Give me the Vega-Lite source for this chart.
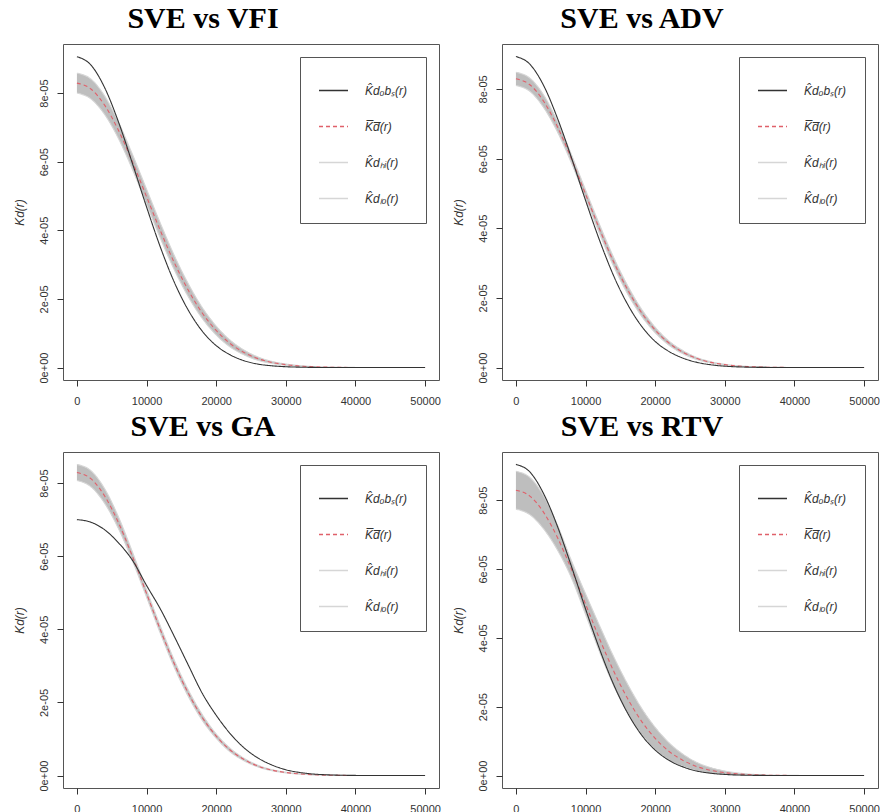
{
  "$schema": "https://vega.github.io/schema/vega-lite/v6.json",
  "padding": {"left": 12, "top": 3, "right": 0, "bottom": 0},
  "background": "white",
  "columns": 2,
  "spacing": {"row": 4, "column": 10},
  "resolve": {"scale": {"color": "independent", "strokeDash": "independent", "x": "independent", "y": "independent"}, "legend": {"color": "independent", "strokeDash": "independent"}},
  "data": {"values": [
    {"p":"VFI","r":0,"obs":9.06e-5,"mean":8.29e-5,"lo":8.00e-5,"hi":8.58e-5},
    {"p":"VFI","r":2000,"obs":8.82e-5,"mean":8.12e-5,"lo":7.83e-5,"hi":8.41e-5},
    {"p":"VFI","r":4000,"obs":8.15e-5,"mean":7.64e-5,"lo":7.37e-5,"hi":7.91e-5},
    {"p":"VFI","r":6000,"obs":7.14e-5,"mean":6.90e-5,"lo":6.66e-5,"hi":7.14e-5},
    {"p":"VFI","r":8000,"obs":5.93e-5,"mean":5.98e-5,"lo":5.76e-5,"hi":6.20e-5},
    {"p":"VFI","r":10000,"obs":4.68e-5,"mean":4.98e-5,"lo":4.76e-5,"hi":5.20e-5},
    {"p":"VFI","r":12000,"obs":3.50e-5,"mean":3.98e-5,"lo":3.76e-5,"hi":4.20e-5},
    {"p":"VFI","r":14000,"obs":2.48e-5,"mean":3.05e-5,"lo":2.84e-5,"hi":3.26e-5},
    {"p":"VFI","r":16000,"obs":1.67e-5,"mean":2.25e-5,"lo":2.06e-5,"hi":2.44e-5},
    {"p":"VFI","r":18000,"obs":1.06e-5,"mean":1.59e-5,"lo":1.43e-5,"hi":1.75e-5},
    {"p":"VFI","r":20000,"obs":0.64e-5,"mean":1.08e-5,"lo":0.95e-5,"hi":1.21e-5},
    {"p":"VFI","r":22000,"obs":0.37e-5,"mean":0.70e-5,"lo":0.60e-5,"hi":0.80e-5},
    {"p":"VFI","r":24000,"obs":0.20e-5,"mean":0.44e-5,"lo":0.37e-5,"hi":0.51e-5},
    {"p":"VFI","r":26000,"obs":0.10e-5,"mean":0.26e-5,"lo":0.21e-5,"hi":0.31e-5},
    {"p":"VFI","r":28000,"obs":0.051e-5,"mean":0.15e-5,"lo":0.12e-5,"hi":0.18e-5},
    {"p":"VFI","r":30000,"obs":0.024e-5,"mean":0.084e-5,"lo":0.064e-5,"hi":0.104e-5},
    {"p":"VFI","r":33000,"obs":0.007e-5,"mean":0.032e-5,"lo":0.022e-5,"hi":0.042e-5},
    {"p":"VFI","r":36000,"obs":0.0016e-5,"mean":0.011e-5,"lo":0.007e-5,"hi":0.015e-5},
    {"p":"VFI","r":40000,"obs":0.0002e-5,"mean":0.0024e-5,"lo":0.0014e-5,"hi":0.0034e-5},
    {"p":"VFI","r":45000,"obs":0,"mean":0.0002e-5,"lo":0.0002e-5,"hi":0.0002e-5},
    {"p":"VFI","r":50000,"obs":0,"mean":0,"lo":0,"hi":0},

    {"p":"ADV","r":0,"obs":8.93e-5,"mean":8.29e-5,"lo":8.10e-5,"hi":8.48e-5},
    {"p":"ADV","r":2000,"obs":8.71e-5,"mean":8.12e-5,"lo":7.93e-5,"hi":8.31e-5},
    {"p":"ADV","r":4000,"obs":8.09e-5,"mean":7.64e-5,"lo":7.46e-5,"hi":7.82e-5},
    {"p":"ADV","r":6000,"obs":7.14e-5,"mean":6.90e-5,"lo":6.75e-5,"hi":7.05e-5},
    {"p":"ADV","r":8000,"obs":6.01e-5,"mean":5.98e-5,"lo":5.86e-5,"hi":6.10e-5},
    {"p":"ADV","r":10000,"obs":4.80e-5,"mean":4.98e-5,"lo":4.86e-5,"hi":5.10e-5},
    {"p":"ADV","r":12000,"obs":3.66e-5,"mean":3.98e-5,"lo":3.85e-5,"hi":4.11e-5},
    {"p":"ADV","r":14000,"obs":2.65e-5,"mean":3.05e-5,"lo":2.92e-5,"hi":3.18e-5},
    {"p":"ADV","r":16000,"obs":1.83e-5,"mean":2.25e-5,"lo":2.13e-5,"hi":2.37e-5},
    {"p":"ADV","r":18000,"obs":1.20e-5,"mean":1.59e-5,"lo":1.49e-5,"hi":1.69e-5},
    {"p":"ADV","r":20000,"obs":0.75e-5,"mean":1.08e-5,"lo":1.00e-5,"hi":1.16e-5},
    {"p":"ADV","r":22000,"obs":0.46e-5,"mean":0.70e-5,"lo":0.64e-5,"hi":0.76e-5},
    {"p":"ADV","r":24000,"obs":0.27e-5,"mean":0.44e-5,"lo":0.395e-5,"hi":0.485e-5},
    {"p":"ADV","r":26000,"obs":0.15e-5,"mean":0.26e-5,"lo":0.23e-5,"hi":0.29e-5},
    {"p":"ADV","r":28000,"obs":0.08e-5,"mean":0.15e-5,"lo":0.13e-5,"hi":0.17e-5},
    {"p":"ADV","r":30000,"obs":0.04e-5,"mean":0.084e-5,"lo":0.072e-5,"hi":0.096e-5},
    {"p":"ADV","r":33000,"obs":0.013e-5,"mean":0.032e-5,"lo":0.027e-5,"hi":0.037e-5},
    {"p":"ADV","r":36000,"obs":0.004e-5,"mean":0.011e-5,"lo":0.009e-5,"hi":0.013e-5},
    {"p":"ADV","r":40000,"obs":0.0005e-5,"mean":0.0024e-5,"lo":0.0024e-5,"hi":0.0024e-5},
    {"p":"ADV","r":45000,"obs":0,"mean":0.0002e-5,"lo":0.0002e-5,"hi":0.0002e-5},
    {"p":"ADV","r":50000,"obs":0,"mean":0,"lo":0,"hi":0},

    {"p":"GA","r":0,"obs":7.00e-5,"mean":8.29e-5,"lo":8.07e-5,"hi":8.51e-5},
    {"p":"GA","r":2000,"obs":6.93e-5,"mean":8.12e-5,"lo":7.90e-5,"hi":8.34e-5},
    {"p":"GA","r":4000,"obs":6.72e-5,"mean":7.64e-5,"lo":7.44e-5,"hi":7.84e-5},
    {"p":"GA","r":6000,"obs":6.36e-5,"mean":6.90e-5,"lo":6.74e-5,"hi":7.06e-5},
    {"p":"GA","r":8000,"obs":5.88e-5,"mean":5.98e-5,"lo":5.86e-5,"hi":6.10e-5},
    {"p":"GA","r":10000,"obs":5.20e-5,"mean":4.98e-5,"lo":4.88e-5,"hi":5.08e-5},
    {"p":"GA","r":12000,"obs":4.55e-5,"mean":3.98e-5,"lo":3.88e-5,"hi":4.08e-5},
    {"p":"GA","r":14000,"obs":3.80e-5,"mean":3.05e-5,"lo":2.95e-5,"hi":3.15e-5},
    {"p":"GA","r":16000,"obs":3.02e-5,"mean":2.25e-5,"lo":2.16e-5,"hi":2.34e-5},
    {"p":"GA","r":18000,"obs":2.25e-5,"mean":1.59e-5,"lo":1.51e-5,"hi":1.67e-5},
    {"p":"GA","r":20000,"obs":1.65e-5,"mean":1.08e-5,"lo":1.02e-5,"hi":1.14e-5},
    {"p":"GA","r":22000,"obs":1.15e-5,"mean":0.70e-5,"lo":0.65e-5,"hi":0.75e-5},
    {"p":"GA","r":24000,"obs":0.76e-5,"mean":0.44e-5,"lo":0.405e-5,"hi":0.475e-5},
    {"p":"GA","r":26000,"obs":0.48e-5,"mean":0.26e-5,"lo":0.235e-5,"hi":0.285e-5},
    {"p":"GA","r":28000,"obs":0.29e-5,"mean":0.15e-5,"lo":0.135e-5,"hi":0.165e-5},
    {"p":"GA","r":30000,"obs":0.16e-5,"mean":0.084e-5,"lo":0.074e-5,"hi":0.094e-5},
    {"p":"GA","r":33000,"obs":0.06e-5,"mean":0.032e-5,"lo":0.028e-5,"hi":0.036e-5},
    {"p":"GA","r":36000,"obs":0.02e-5,"mean":0.011e-5,"lo":0.010e-5,"hi":0.012e-5},
    {"p":"GA","r":40000,"obs":0.004e-5,"mean":0.0024e-5,"lo":0.0024e-5,"hi":0.0024e-5},
    {"p":"GA","r":45000,"obs":0,"mean":0.0002e-5,"lo":0.0002e-5,"hi":0.0002e-5},
    {"p":"GA","r":50000,"obs":0,"mean":0,"lo":0,"hi":0},

    {"p":"RTV","r":0,"obs":9.04e-5,"mean":8.29e-5,"lo":7.74e-5,"hi":8.84e-5},
    {"p":"RTV","r":2000,"obs":8.82e-5,"mean":8.12e-5,"lo":7.58e-5,"hi":8.66e-5},
    {"p":"RTV","r":4000,"obs":8.18e-5,"mean":7.64e-5,"lo":7.16e-5,"hi":8.12e-5},
    {"p":"RTV","r":6000,"obs":7.22e-5,"mean":6.90e-5,"lo":6.54e-5,"hi":7.26e-5},
    {"p":"RTV","r":8000,"obs":6.06e-5,"mean":5.98e-5,"lo":5.73e-5,"hi":6.23e-5},
    {"p":"RTV","r":10000,"obs":4.84e-5,"mean":4.98e-5,"lo":4.68e-5,"hi":5.28e-5},
    {"p":"RTV","r":12000,"obs":3.68e-5,"mean":3.98e-5,"lo":3.60e-5,"hi":4.36e-5},
    {"p":"RTV","r":14000,"obs":2.66e-5,"mean":3.05e-5,"lo":2.63e-5,"hi":3.47e-5},
    {"p":"RTV","r":16000,"obs":1.83e-5,"mean":2.25e-5,"lo":1.83e-5,"hi":2.67e-5},
    {"p":"RTV","r":18000,"obs":1.19e-5,"mean":1.59e-5,"lo":1.21e-5,"hi":1.97e-5},
    {"p":"RTV","r":20000,"obs":0.74e-5,"mean":1.08e-5,"lo":0.76e-5,"hi":1.40e-5},
    {"p":"RTV","r":22000,"obs":0.44e-5,"mean":0.70e-5,"lo":0.45e-5,"hi":0.95e-5},
    {"p":"RTV","r":24000,"obs":0.25e-5,"mean":0.44e-5,"lo":0.26e-5,"hi":0.62e-5},
    {"p":"RTV","r":26000,"obs":0.13e-5,"mean":0.26e-5,"lo":0.14e-5,"hi":0.38e-5},
    {"p":"RTV","r":28000,"obs":0.067e-5,"mean":0.15e-5,"lo":0.07e-5,"hi":0.23e-5},
    {"p":"RTV","r":30000,"obs":0.033e-5,"mean":0.084e-5,"lo":0.034e-5,"hi":0.134e-5},
    {"p":"RTV","r":33000,"obs":0.01e-5,"mean":0.032e-5,"lo":0.012e-5,"hi":0.052e-5},
    {"p":"RTV","r":36000,"obs":0.003e-5,"mean":0.011e-5,"lo":0.003e-5,"hi":0.019e-5},
    {"p":"RTV","r":40000,"obs":0.0003e-5,"mean":0.0024e-5,"lo":0.0004e-5,"hi":0.0044e-5},
    {"p":"RTV","r":45000,"obs":0,"mean":0.0002e-5,"lo":0.0002e-5,"hi":0.0002e-5},
    {"p":"RTV","r":50000,"obs":0,"mean":0,"lo":0,"hi":0}
  ]},
  "concat": [
    {
      "width": 376, "height": 336,
      "title": "SVE vs VFI",
      "transform": [{"filter": "datum.p == 'VFI'"}],
      "layer": [
        {"mark": {"type": "area", "color": "#BEBEBE", "interpolate": "monotone", "opacity": 1},
         "encoding": {
           "x": {"field": "r", "type": "quantitative", "scale": {"domain": [-2000, 52000], "nice": false, "zero": false}, "axis": {"values": [0,10000,20000,30000,40000,50000], "format": "d", "title": null}},
           "y": {"field": "lo", "type": "quantitative", "scale": {"domain": [-0.363e-5, 9.43e-5], "nice": false, "zero": false}, "axis": {"values": [0,2e-5,4e-5,6e-5,8e-5], "title": "Kd(r)"}},
           "y2": {"field": "hi"}
         }},
        {"transform": [{"fold": ["lo","hi","mean","obs"], "as": ["series","value"]}],
         "mark": {"type": "line", "interpolate": "monotone", "strokeWidth": 1.1},
         "encoding": {
           "x": {"field": "r", "type": "quantitative"},
           "y": {"field": "value", "type": "quantitative", "axis": {"values": [0,2e-5,4e-5,6e-5,8e-5], "title": "Kd(r)"}},
           "color": {"field": "series", "type": "nominal", "scale": {"domain": ["obs","mean","hi","lo"], "range": ["#333333","#E0606A","#D6D6D6","#D6D6D6"]}, "legend": {"title": null, "labelExpr": "datum.label == 'obs' ? 'K\u0302d\u2092b\u209B(r)' : datum.label == 'mean' ? 'K\u0305d\u0305(r)' : datum.label == 'hi' ? 'K\u0302d\u2095\u1D62(r)' : 'K\u0302d\u2097\u2092(r)'"}},
           "strokeDash": {"field": "series", "type": "nominal", "scale": {"domain": ["obs","mean","hi","lo"], "range": [[1,0],[4,3],[1,0],[1,0]]}, "legend": {"title": null, "labelExpr": "datum.label == 'obs' ? 'K\u0302d\u2092b\u209B(r)' : datum.label == 'mean' ? 'K\u0305d\u0305(r)' : datum.label == 'hi' ? 'K\u0302d\u2095\u1D62(r)' : 'K\u0302d\u2097\u2092(r)'"}}
         }}
      ]
    },
    {
      "width": 376, "height": 336,
      "title": "SVE vs ADV",
      "transform": [{"filter": "datum.p == 'ADV'"}],
      "layer": [
        {"mark": {"type": "area", "color": "#BEBEBE", "interpolate": "monotone", "opacity": 1},
         "encoding": {
           "x": {"field": "r", "type": "quantitative", "scale": {"domain": [-2000, 52000], "nice": false, "zero": false}, "axis": {"values": [0,10000,20000,30000,40000,50000], "format": "d", "title": null}},
           "y": {"field": "lo", "type": "quantitative", "scale": {"domain": [-0.357e-5, 9.29e-5], "nice": false, "zero": false}, "axis": {"values": [0,2e-5,4e-5,6e-5,8e-5], "title": "Kd(r)"}},
           "y2": {"field": "hi"}
         }},
        {"transform": [{"fold": ["lo","hi","mean","obs"], "as": ["series","value"]}],
         "mark": {"type": "line", "interpolate": "monotone", "strokeWidth": 1.1},
         "encoding": {
           "x": {"field": "r", "type": "quantitative"},
           "y": {"field": "value", "type": "quantitative", "axis": {"values": [0,2e-5,4e-5,6e-5,8e-5], "title": "Kd(r)"}},
           "color": {"field": "series", "type": "nominal", "scale": {"domain": ["obs","mean","hi","lo"], "range": ["#333333","#E0606A","#D6D6D6","#D6D6D6"]}, "legend": {"title": null, "labelExpr": "datum.label == 'obs' ? 'K\u0302d\u2092b\u209B(r)' : datum.label == 'mean' ? 'K\u0305d\u0305(r)' : datum.label == 'hi' ? 'K\u0302d\u2095\u1D62(r)' : 'K\u0302d\u2097\u2092(r)'"}},
           "strokeDash": {"field": "series", "type": "nominal", "scale": {"domain": ["obs","mean","hi","lo"], "range": [[1,0],[4,3],[1,0],[1,0]]}, "legend": {"title": null, "labelExpr": "datum.label == 'obs' ? 'K\u0302d\u2092b\u209B(r)' : datum.label == 'mean' ? 'K\u0305d\u0305(r)' : datum.label == 'hi' ? 'K\u0302d\u2095\u1D62(r)' : 'K\u0302d\u2097\u2092(r)'"}}
         }}
      ]
    },
    {
      "width": 376, "height": 336,
      "title": "SVE vs GA",
      "transform": [{"filter": "datum.p == 'GA'"}],
      "layer": [
        {"mark": {"type": "area", "color": "#BEBEBE", "interpolate": "monotone", "opacity": 1},
         "encoding": {
           "x": {"field": "r", "type": "quantitative", "scale": {"domain": [-2000, 52000], "nice": false, "zero": false}, "axis": {"values": [0,10000,20000,30000,40000,50000], "format": "d", "title": null}},
           "y": {"field": "lo", "type": "quantitative", "scale": {"domain": [-0.34e-5, 8.85e-5], "nice": false, "zero": false}, "axis": {"values": [0,2e-5,4e-5,6e-5,8e-5], "title": "Kd(r)"}},
           "y2": {"field": "hi"}
         }},
        {"transform": [{"fold": ["lo","hi","mean","obs"], "as": ["series","value"]}],
         "mark": {"type": "line", "interpolate": "monotone", "strokeWidth": 1.1},
         "encoding": {
           "x": {"field": "r", "type": "quantitative"},
           "y": {"field": "value", "type": "quantitative", "axis": {"values": [0,2e-5,4e-5,6e-5,8e-5], "title": "Kd(r)"}},
           "color": {"field": "series", "type": "nominal", "scale": {"domain": ["obs","mean","hi","lo"], "range": ["#333333","#E0606A","#D6D6D6","#D6D6D6"]}, "legend": {"title": null, "labelExpr": "datum.label == 'obs' ? 'K\u0302d\u2092b\u209B(r)' : datum.label == 'mean' ? 'K\u0305d\u0305(r)' : datum.label == 'hi' ? 'K\u0302d\u2095\u1D62(r)' : 'K\u0302d\u2097\u2092(r)'"}},
           "strokeDash": {"field": "series", "type": "nominal", "scale": {"domain": ["obs","mean","hi","lo"], "range": [[1,0],[4,3],[1,0],[1,0]]}, "legend": {"title": null, "labelExpr": "datum.label == 'obs' ? 'K\u0302d\u2092b\u209B(r)' : datum.label == 'mean' ? 'K\u0305d\u0305(r)' : datum.label == 'hi' ? 'K\u0302d\u2095\u1D62(r)' : 'K\u0302d\u2097\u2092(r)'"}}
         }}
      ]
    },
    {
      "width": 376, "height": 336,
      "title": "SVE vs RTV",
      "transform": [{"filter": "datum.p == 'RTV'"}],
      "layer": [
        {"mark": {"type": "area", "color": "#BEBEBE", "interpolate": "monotone", "opacity": 1},
         "encoding": {
           "x": {"field": "r", "type": "quantitative", "scale": {"domain": [-2000, 52000], "nice": false, "zero": false}, "axis": {"values": [0,10000,20000,30000,40000,50000], "format": "d", "title": null}},
           "y": {"field": "lo", "type": "quantitative", "scale": {"domain": [-0.362e-5, 9.40e-5], "nice": false, "zero": false}, "axis": {"values": [0,2e-5,4e-5,6e-5,8e-5], "title": "Kd(r)"}},
           "y2": {"field": "hi"}
         }},
        {"transform": [{"fold": ["lo","hi","mean","obs"], "as": ["series","value"]}],
         "mark": {"type": "line", "interpolate": "monotone", "strokeWidth": 1.1},
         "encoding": {
           "x": {"field": "r", "type": "quantitative"},
           "y": {"field": "value", "type": "quantitative", "axis": {"values": [0,2e-5,4e-5,6e-5,8e-5], "title": "Kd(r)"}},
           "color": {"field": "series", "type": "nominal", "scale": {"domain": ["obs","mean","hi","lo"], "range": ["#333333","#E0606A","#D6D6D6","#D6D6D6"]}, "legend": {"title": null, "labelExpr": "datum.label == 'obs' ? 'K\u0302d\u2092b\u209B(r)' : datum.label == 'mean' ? 'K\u0305d\u0305(r)' : datum.label == 'hi' ? 'K\u0302d\u2095\u1D62(r)' : 'K\u0302d\u2097\u2092(r)'"}},
           "strokeDash": {"field": "series", "type": "nominal", "scale": {"domain": ["obs","mean","hi","lo"], "range": [[1,0],[4,3],[1,0],[1,0]]}, "legend": {"title": null, "labelExpr": "datum.label == 'obs' ? 'K\u0302d\u2092b\u209B(r)' : datum.label == 'mean' ? 'K\u0305d\u0305(r)' : datum.label == 'hi' ? 'K\u0302d\u2095\u1D62(r)' : 'K\u0302d\u2097\u2092(r)'"}}
         }}
      ]
    }
  ],
  "config": {
    "view": {"stroke": "#555555", "strokeWidth": 1},
    "title": {"font": "Liberation Serif", "fontSize": 30, "fontWeight": "bold", "color": "#000000", "anchor": "middle", "dx": -48, "offset": 10, "baseline": "alphabetic"},
    "axis": {"domain": false, "grid": false, "tickColor": "#333333", "tickSize": 6, "labelFont": "Liberation Sans", "labelFontSize": 11, "labelColor": "#333333", "titleFont": "Liberation Sans", "titleFontSize": 12, "titleFontWeight": "normal", "titleColor": "#333333"},
    "axisX": {"labelPadding": 9, "labelFlush": false},
    "axisY": {"labelAngle": 270, "labelAlign": "center", "labelBaseline": "alphabetic", "labelPadding": 10, "titleFontStyle": "italic", "titlePadding": 12,
      "labelExpr": "replace(replace(format(datum.value, '.0e'), 'e-', 'e-0'), 'e+', 'e+0')"},
    "legend": {"orient": "top-right", "offset": 13, "strokeColor": "#555555", "fillColor": "white", "padding": 18, "symbolType": "stroke", "symbolSize": 841, "symbolStrokeWidth": 1.4, "labelFont": "Liberation Sans", "labelFontStyle": "italic", "labelFontSize": 12, "labelColor": "#333333", "labelOffset": 16, "rowPadding": 14}
  }
}
